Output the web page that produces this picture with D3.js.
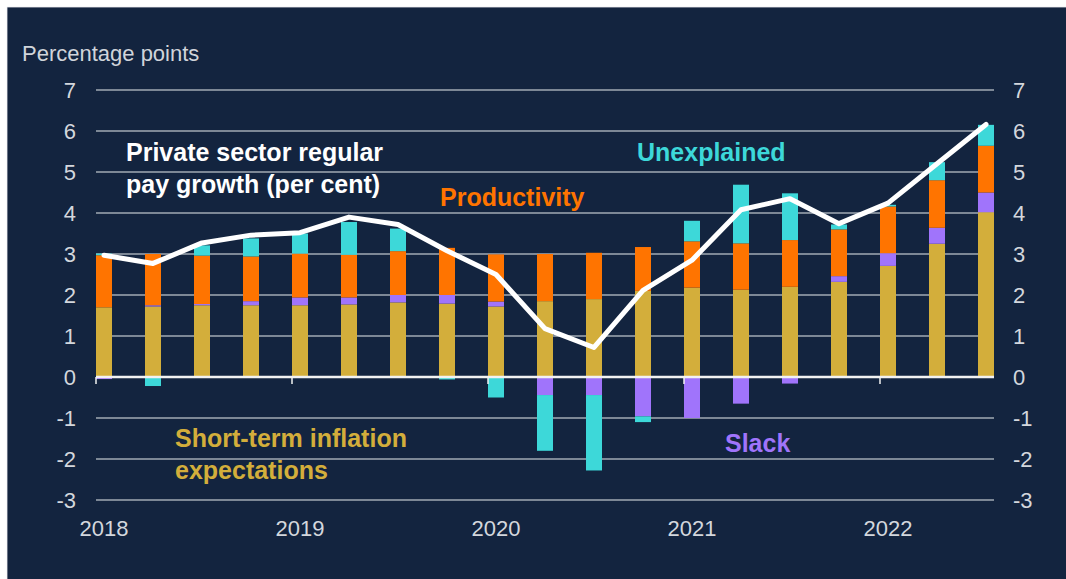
<!DOCTYPE html>
<html>
<head>
<meta charset="utf-8">
<script src="https://cdn.jsdelivr.net/npm/d3@7"></script>
<style>
  html, body { margin: 0; padding: 0; background: #13243f; overflow: hidden; }
  svg { display: block; }
  text { font-family: "Liberation Sans", Arial, sans-serif; }
</style>
</head>
<body>
<svg id="chart" width="1066" height="579"></svg>
<script>
// ---- Data ----
const quarters = ["2018Q1","2018Q2","2018Q3","2018Q4","2019Q1","2019Q2","2019Q3","2019Q4",
                  "2020Q1","2020Q2","2020Q3","2020Q4","2021Q1","2021Q2","2021Q3","2021Q4",
                  "2022Q1","2022Q2","2022Q3"];
const inflationExpectations = [1.70,1.72,1.75,1.75,1.75,1.77,1.82,1.79,1.72,1.85,1.90,2.10,2.18,2.13,2.20,2.32,2.71,3.25,4.02];
const slack        = [-0.05,0.03,0.03,0.10,0.19,0.17,0.18,0.21,0.12,-0.44,-0.44,-0.96,-1.00,-0.65,-0.16,0.14,0.31,0.39,0.48];
const productivity = [1.27,1.25,1.18,1.09,1.07,1.04,1.07,1.15,1.15,1.15,1.13,1.07,1.13,1.13,1.14,1.14,1.14,1.16,1.14];
const unexplained  = [0.04,-0.22,0.25,0.44,0.49,0.80,0.55,-0.06,-0.50,-1.36,-1.84,-0.14,0.50,1.43,1.14,0.12,0.04,0.44,0.51];
const payGrowth    = [2.97,2.77,3.27,3.46,3.52,3.90,3.72,3.08,2.50,1.18,0.72,2.11,2.85,4.08,4.35,3.74,4.24,5.20,6.16];
const yTicks = [-3,-2,-1,0,1,2,3,4,5,6,7];
const yearLabels = ["2018","2019","2020","2021","2022"];
const yearStartQuarters = ["2018Q1","2019Q1","2020Q1","2021Q1","2022Q1"];
const seriesKeys = ["inflation","slack","productivity","unexplained"];
const seriesColors = {inflation:"#d3ae3b", slack:"#a074fb", productivity:"#ff7400", unexplained:"#3dd8d9"};

// ---- Setup ----
const svg = d3.select("#chart");
const W = 1066, H = 579;
const plot = {left: 96, right: 994, top: 90, bottom: 500};

svg.append("rect").attr("x",0).attr("y",0).attr("width",W).attr("height",H).attr("fill","#13243f");
svg.append("rect").attr("x",0).attr("y",0).attr("width",W).attr("height",7).attr("fill","#ffffff");
svg.append("rect").attr("x",0).attr("y",0).attr("width",7).attr("height",H).attr("fill","#ffffff");
svg.append("line").attr("x1",7).attr("x2",W).attr("y1",7.3).attr("y2",7.3).attr("stroke","#c9ccd2").attr("stroke-width",0.6);
svg.append("line").attr("x1",7.3).attr("x2",7.3).attr("y1",7).attr("y2",H).attr("stroke","#c9ccd2").attr("stroke-width",0.6);

const x = d3.scaleBand().domain(quarters).range([plot.left, plot.right])
  .paddingInner(1 - 16/49).paddingOuter(0).align(0);
const y = d3.scaleLinear().domain([-3,7]).range([plot.bottom, plot.top]);

// gridlines
svg.append("g").selectAll("line").data(yTicks.filter(d => d !== 0)).join("line")
  .attr("x1", plot.left).attr("x2", plot.right)
  .attr("y1", d => y(d)).attr("y2", d => y(d))
  .attr("stroke", "#a2aab4").attr("stroke-width", 1.5);

// y-axis labels (left and right)
const tickColor = "#d3d7dd";
const fmt = d => d < 0 ? "-" + Math.abs(d) : String(d);
const leftAxis = d3.axisLeft(y).tickValues(yTicks).tickSize(0).tickPadding(0).tickFormat(fmt);
const rightAxis = d3.axisRight(y).tickValues(yTicks).tickSize(0).tickPadding(0).tickFormat(fmt);
const gl = svg.append("g").attr("transform", "translate(76,0)").call(leftAxis);
const gr = svg.append("g").attr("transform", "translate(1013,0)").call(rightAxis);
[gl, gr].forEach(g => {
  g.select(".domain").remove();
  g.selectAll("text").attr("fill", tickColor).attr("font-size", 22)
   .attr("font-family", "'Liberation Sans', Arial, sans-serif").attr("dy", "0.36em");
});

// stacked bars
const rows = quarters.map((q, i) => ({
  q, inflation: inflationExpectations[i], slack: slack[i],
  productivity: productivity[i], unexplained: unexplained[i]
}));
const stacked = d3.stack().keys(seriesKeys).offset(d3.stackOffsetDiverging)(rows);
svg.append("g").selectAll("g").data(stacked).join("g")
  .attr("fill", s => seriesColors[s.key])
  .selectAll("rect").data(s => s).join("rect")
  .attr("x", d => x(d.data.q))
  .attr("width", x.bandwidth())
  .attr("y", d => y(Math.max(d[0], d[1])))
  .attr("height", d => Math.abs(y(d[0]) - y(d[1])));

// zero line
svg.append("line").attr("x1", plot.left).attr("x2", plot.right)
  .attr("y1", y(0)).attr("y2", y(0)).attr("stroke", "#f2f2f2").attr("stroke-width", 2.5);

// year ticks
svg.append("g").selectAll("line").data(yearStartQuarters).join("line")
  .attr("x1", d => x(d)).attr("x2", d => x(d))
  .attr("y1", y(0)).attr("y2", y(0) + 7)
  .attr("stroke", "#f2f2f2").attr("stroke-width", 1.5);

// year labels
svg.append("g").selectAll("text").data(yearLabels).join("text")
  .attr("x", (d, i) => x(yearStartQuarters[i]) + x.bandwidth()/2)
  .attr("y", 536)
  .attr("text-anchor", "middle")
  .attr("fill", tickColor).attr("font-size", 22)
  .text(d => d);

// pay growth line
const line = d3.line().x((d, i) => x(quarters[i]) + x.bandwidth()/2).y(d => y(d));
svg.append("path").datum(payGrowth)
  .attr("d", line).attr("fill", "none")
  .attr("stroke", "#ffffff").attr("stroke-width", 5)
  .attr("stroke-linejoin", "round").attr("stroke-linecap", "round");

// axis title
svg.append("text").attr("x", 22).attr("y", 61)
  .attr("fill", "#d0d4da").attr("font-size", 22).text("Percentage points");

// annotations
const ann = [
  {lines: ["Private sector regular", "pay growth (per cent)"], x: 126, y: 161, color: "#ffffff"},
  {lines: ["Unexplained"], x: 637, y: 161, color: seriesColors.unexplained},
  {lines: ["Productivity"], x: 440, y: 206, color: seriesColors.productivity},
  {lines: ["Short-term inflation", "expectations"], x: 175, y: 447, color: seriesColors.inflation},
  {lines: ["Slack"], x: 725, y: 452, color: seriesColors.slack}
];
ann.forEach(a => {
  const t = svg.append("text").attr("x", a.x).attr("y", a.y)
    .attr("fill", a.color).attr("font-size", 25).attr("font-weight", "bold");
  a.lines.forEach((l, i) => {
    t.append("tspan").attr("x", a.x).attr("dy", i === 0 ? 0 : 32).text(l);
  });
});
</script>
</body>
</html>
